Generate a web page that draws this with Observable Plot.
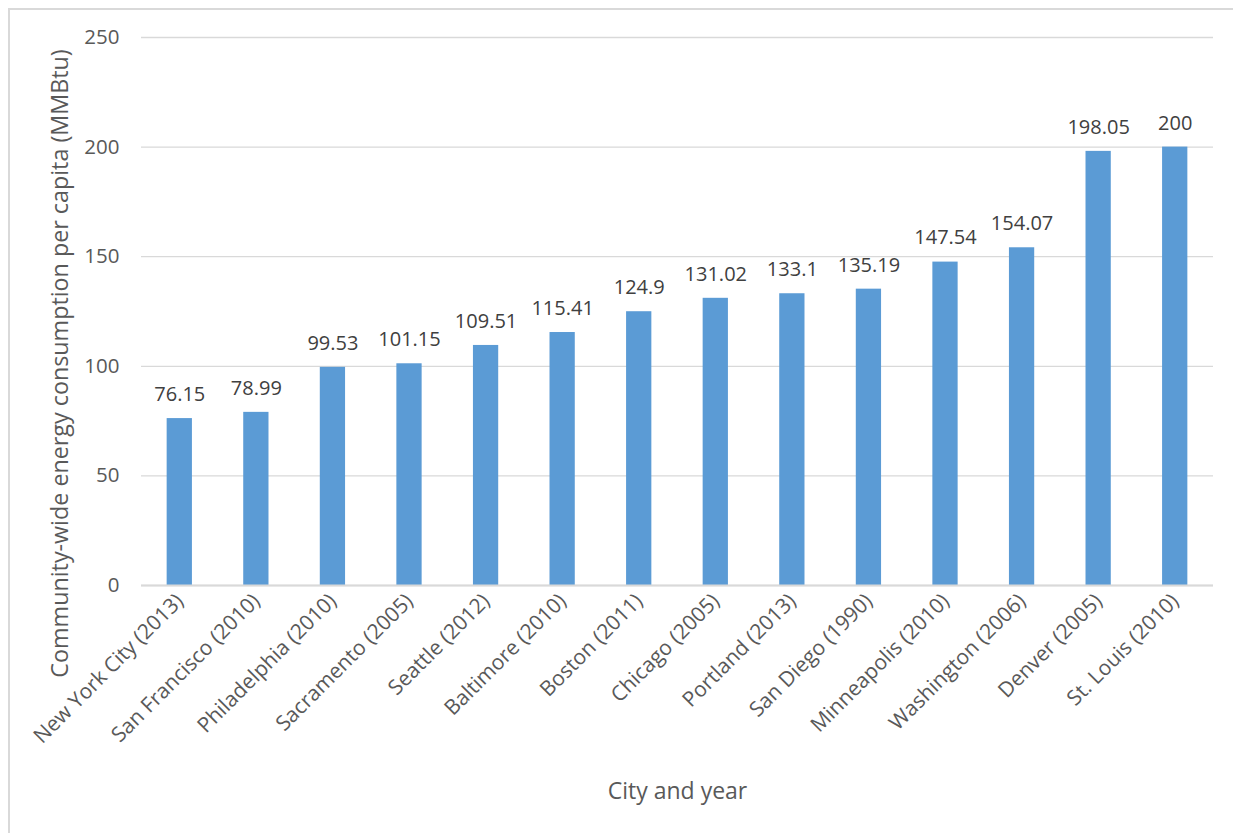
<!DOCTYPE html>
<html>
<head>
<meta charset="utf-8">
<script src="https://cdn.jsdelivr.net/npm/d3@7"></script>
<script src="https://cdn.jsdelivr.net/npm/@observablehq/plot@0.6"></script>
<style>
  html, body { margin: 0; padding: 0; background: #fff; }
  #wrap { position: relative; width: 1233px; height: 833px; overflow: hidden; }
  #border { position: absolute; left: 8px; top: 8px; width: 1400px; height: 1000px;
            border-left: 2px solid #d9d9d9; border-top: 2px solid #d9d9d9; pointer-events: none; }
  svg { font-family: "Open Sans", sans-serif; }
</style>
</head>
<body>
<div id="wrap"><div id="border"></div></div>
<script>
const cities = ["New York City (2013)", "San Francisco (2010)", "Philadelphia (2010)", "Sacramento (2005)",
  "Seattle (2012)", "Baltimore (2010)", "Boston (2011)", "Chicago (2005)", "Portland (2013)",
  "San Diego (1990)", "Minneapolis (2010)", "Washington (2006)", "Denver (2005)", "St. Louis (2010)"];
const values = [76.15, 78.99, 99.53, 101.15, 109.51, 115.41, 124.9, 131.02, 133.1, 135.19, 147.54, 154.07, 198.05, 200];
const yTicks = [0, 50, 100, 150, 200, 250];
const xTitle = "City and year";
const yTitle = "Community-wide energy consumption per capita (MMBtu)";

const data = cities.map((c, i) => ({city: c, value: values[i]}));

const chart = Plot.plot({
  width: 1233,
  height: 833,
  marginLeft: 141,
  marginRight: 20,
  marginTop: 37,
  marginBottom: 248,
  style: {fontFamily: "'Open Sans', sans-serif", fontSize: "20px", color: "#595959", background: "transparent"},
  x: {domain: cities, paddingInner: 0.67, paddingOuter: 0.335, round: false, label: null},
  y: {domain: [0, 250], label: null},
  marks: [
    Plot.gridY(yTicks, {stroke: "#d9d9d9", strokeOpacity: 1, strokeWidth: 1.3}),
    Plot.barY(data, {x: "city", y: "value", fill: "#5b9bd5"}),
    Plot.ruleY([0], {stroke: "#d9d9d9", strokeWidth: 2}),
    Plot.text(data, {x: "city", y: "value", text: d => String(d.value), dy: -24, fill: "#404040", fontSize: 20}),
    Plot.axisY(yTicks, {tickSize: 0, tickPadding: 22, fontSize: 20.5, fill: "#595959", label: null}),
    Plot.axisX({tickSize: 0, tickPadding: 12, tickRotate: -45, fontSize: 21, fill: "#595959", label: null}),
    Plot.text([xTitle], {frameAnchor: "bottom", dy: 213, text: d => d, fontSize: 23, fill: "#595959"}),
    Plot.text([yTitle], {frameAnchor: "left", textAnchor: "middle", dx: -81, dy: 52, rotate: -90, text: d => d, fontSize: 23.3, fill: "#595959"})
  ]
});
document.getElementById("wrap").prepend(chart);
</script>
</body>
</html>
